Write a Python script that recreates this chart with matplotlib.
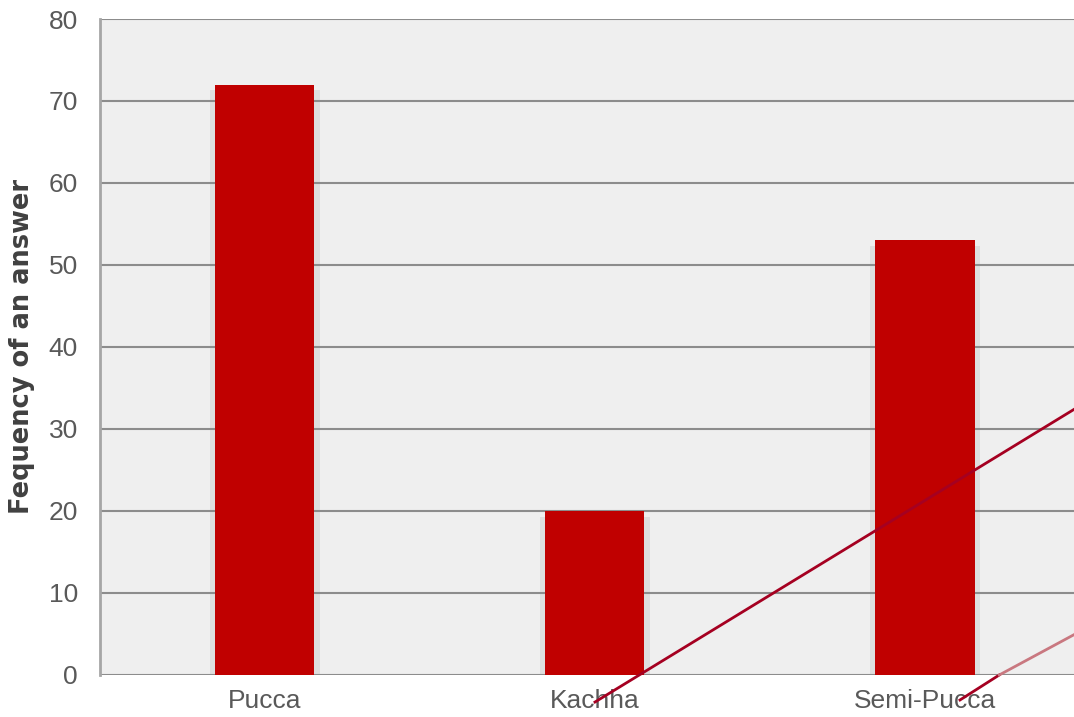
import matplotlib.pyplot as plt
import numpy as np

plt.rcParams['font.family'] = ['Liberation Sans', 'DejaVu Sans']

# data
categories = ['Pucca', 'Kachha', 'Semi-Pucca']
counts = [72, 20, 53]
y_ticks = [0, 10, 20, 30, 40, 50, 60, 70, 80]

# two stray connector strokes, in data units (category index, value)
stroke1_x = [1.0, 2.46]
stroke1_y = [-3.3, 32.6]
stroke2_x = [2.106, 2.46]
stroke2_y = [-3.05, 5.1]

bar_red = '#C00000'
text_gray = '#595959'

fig = plt.figure(figsize=(10.74, 7.17), dpi=100)
ax = fig.add_axes([0.0931, 0.0586, 0.9218, 0.9149])
ax.set_facecolor('#EFEFEF')

x = np.arange(len(categories))
width = 0.3

# soft shadow behind each bar (under the grid)
ax.bar(x, np.array(counts) - 0.7, width=width + 0.032, color='#DEDEDE', zorder=0.3)
ax.bar(x, counts, width=width, color=bar_red, zorder=3)

ax.set_xlim(-0.5, 2.5)
ax.set_ylim(0, 80)
ax.set_yticks(y_ticks)
ax.set_xticks(x)
ax.set_xticklabels(categories)

ax.set_axisbelow(True)
ax.grid(axis='y', color='#8C8C8C', linewidth=1.5)
ax.grid(axis='x', visible=False)

for side in ['top', 'right', 'bottom']:
    ax.spines[side].set_visible(False)
ax.spines['left'].set_color('#A6A6A6')
ax.spines['left'].set_linewidth(2)

ax.tick_params(axis='both', length=0, labelsize=19, labelcolor=text_gray)
ax.tick_params(axis='y', pad=16)
ax.tick_params(axis='x', pad=10)

ax.set_ylabel('Fequency of an answer', fontsize=18.5, fontweight='heavy',
              color='#404040', family=['DejaVu Sans'])
ax.yaxis.label.set_va('center')
ax.yaxis.set_label_coords(-0.0788, 0.5)

# stray strokes running past the axes
ax.plot(stroke1_x, stroke1_y, color='#A50021', linewidth=2, clip_on=False, zorder=4)
ax.plot([stroke2_x[0], 2.225], [stroke2_y[0], 0], color='#A50021', linewidth=2,
        clip_on=False, zorder=4)
ax.plot([2.225, stroke2_x[1]], [0, stroke2_y[1]], color='#C97880', linewidth=2,
        clip_on=False, zorder=4)

fig.savefig('out.png', dpi=100)
